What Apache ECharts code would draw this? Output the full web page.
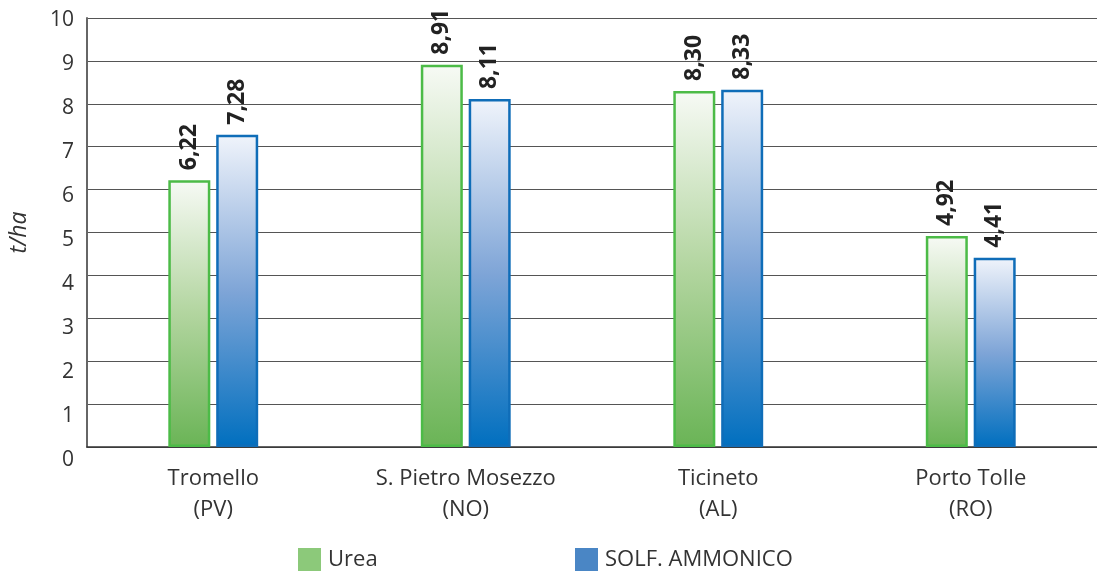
<!DOCTYPE html>
<html><head><meta charset="utf-8">
<script src="https://cdn.jsdelivr.net/npm/echarts@6/dist/echarts.min.js"></script>
<style>html,body{margin:0;padding:0;background:#fff}#c{width:1097px;height:571px}</style>
</head><body><div id="c"></div>
<script>
const categories = ['Tromello\n(PV)', 'S. Pietro Mosezzo\n(NO)', 'Ticineto\n(AL)', 'Porto Tolle\n(RO)'];
const urea = [6.22, 8.91, 8.30, 4.92];
const solf = [7.28, 8.11, 8.33, 4.41];
const yTicks = [0, 1, 2, 3, 4, 5, 6, 7, 8, 9, 10];
const FONT = 'Open Sans';

const chart = echarts.init(document.getElementById('c'), null, {renderer: 'canvas'});
const grad = (a, b, c) => new echarts.graphic.LinearGradient(0, 0, 0, 1, [
  {offset: 0, color: a}, {offset: 0.5, color: b}, {offset: 1, color: c}]);
const labelCfg = {
  show: true, position: 'top', rotate: 90, align: 'left', verticalAlign: 'middle', distance: 10,
  fontFamily: FONT, fontWeight: 'bold', fontSize: 23, color: '#222',
  formatter: p => p.value.toFixed(2).replace('.', ',')
};
chart.setOption({
  animation: false,
  grid: [
    {left: 86, right: -3, top: 18, bottom: 124},
    {left: 86, right: -3, top: 20, bottom: 111}
  ],
  legend: [
    {left: 293, top: 543, itemWidth: 23, itemHeight: 23, icon: 'rect',
     textStyle: {fontFamily: FONT, fontSize: 22, color: '#333', padding: [0, 0, 0, 2]},
     data: [{name: 'Urea', itemStyle: {color: '#8cc97a', borderWidth: 0}}]},
    {left: 570, top: 543, itemWidth: 23, itemHeight: 23, icon: 'rect',
     textStyle: {fontFamily: FONT, fontSize: 22, color: '#333', padding: [0, 0, 0, 2]},
     data: [{name: 'SOLF. AMMONICO', itemStyle: {color: '#4a86c5', borderWidth: 0}}]}
  ],
  xAxis: [
    {type: 'category', gridIndex: 0, data: categories,
     axisLine: {lineStyle: {color: '#333', width: 1.5}}, axisTick: {show: false},
     axisLabel: {fontFamily: FONT, fontSize: 22, color: '#333', lineHeight: 31, margin: 16}},
    {type: 'category', gridIndex: 1, data: categories, show: false}
  ],
  yAxis: [
    {type: 'value', gridIndex: 0, min: 0, max: 10, interval: 1,
     axisLine: {show: true, lineStyle: {color: '#666', width: 2}},
     axisTick: {show: false}, axisLabel: {show: false},
     splitLine: {lineStyle: {color: '#555', width: 1}},
     name: 't/ha', nameLocation: 'middle', nameRotate: 90, nameGap: 56,
     nameTextStyle: {fontFamily: FONT, fontSize: 23, fontStyle: 'italic', color: '#333'}},
    {type: 'value', gridIndex: 1, min: 0, max: 10, interval: 1,
     axisLine: {show: false}, axisTick: {show: false}, splitLine: {show: false},
     axisLabel: {fontFamily: FONT, fontSize: 21, color: '#333', margin: 12,
       formatter: v => yTicks.includes(v) ? String(v) : ''}}
  ],
  series: [
    {name: 'Urea', type: 'bar', xAxisIndex: 0, yAxisIndex: 0, data: urea,
     barWidth: 42, barGap: '14%',
     itemStyle: {color: grad('#f7faf5', '#b2d59f', '#6ab456'), borderColor: '#4cbb47', borderWidth: 2.5},
     label: labelCfg},
    {name: 'SOLF. AMMONICO', type: 'bar', xAxisIndex: 0, yAxisIndex: 0, data: solf,
     barWidth: 42, barGap: '14%',
     itemStyle: {color: grad('#f0f4fb', '#7fa5d7', '#006fbf'), borderColor: '#0f6db8', borderWidth: 2.5},
     label: labelCfg}
  ]
});
</script></body></html>
